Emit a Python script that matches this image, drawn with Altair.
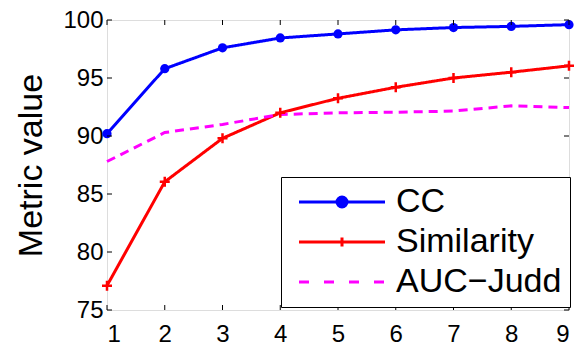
import altair as alt
import pandas as pd

# ---- data ----
x_vals = [1, 2, 3, 4, 5, 6, 7, 8, 9]
cc = [90.2, 95.8, 97.6, 98.45, 98.8, 99.15, 99.35, 99.45, 99.6]
similarity = [77.1, 86.05, 89.8, 92.0, 93.25, 94.2, 95.0, 95.5, 96.05]
auc_judd = [87.8, 90.3, 91.0, 91.85, 92.0, 92.05, 92.15, 92.6, 92.45]

series_names = ["CC", "Similarity", "AUC\u2212Judd"]
series_colors = ["#0000ff", "#ff0000", "#ff00ff"]

x_ticks = [1, 2, 3, 4, 5, 6, 7, 8, 9]
y_ticks = [75, 80, 85, 90, 95, 100]

rows = []
for name, vals in zip(series_names, [cc, similarity, auc_judd]):
    for xv, yv in zip(x_vals, vals):
        rows.append({"x": xv, "value": yv, "series": name})
df = pd.DataFrame(rows)
xt = pd.DataFrame({"x": x_ticks})
yt = pd.DataFrame({"value": y_ticks})

W, H = 462, 290
FONT = "Liberation Sans"

xscale = alt.Scale(domain=[1, 9], nice=False, zero=False)
yscale = alt.Scale(domain=[75, 100], nice=False, zero=False)
cscale = alt.Scale(domain=series_names, range=series_colors)

# legend glyphs (line + marker), drawn as custom symbol paths
legend_shapes = [
    "M-0.7,0H7.9M3.1,0A0.5,0.5,0,1,1,4.1,0A0.5,0.5,0,1,1,3.1,0Z",
    "M-0.7,0H7.9M3.6,-0.45V0.45M3.15,0H4.05",
    "M-0.7,0H0.3M1.8,0H2.8M4.3,0H5.3M6.8,0H7.8",
]
shape_scale = alt.Scale(domain=series_names, range=legend_shapes)

x_axis = alt.Axis(values=x_ticks, title=None, grid=False, domain=False, ticks=False,
                  labelFontSize=24, labelBaseline="alphabetic", labelPadding=31,
                  labelColor="black", labelFont=FONT)
y_axis = alt.Axis(values=y_ticks, title="Metric value", grid=False, domain=False, ticks=False,
                  labelFontSize=24, labelPadding=4, labelColor="black", labelFont=FONT,
                  titleFontSize=34, titleFontWeight="normal", titleColor="black", titleFont=FONT,
                  titleX=-66, titleY=H / 2, titleBaseline="alphabetic", titleAngle=270,
                  titleAlign="center")

X = alt.X("x:Q", scale=xscale, axis=x_axis)
Y = alt.Y("value:Q", scale=yscale, axis=y_axis)

leg = alt.Legend(orient="none", legendX=174, legendY=157, title=None,
                 labelFontSize=34, labelFont=FONT, labelColor="black", labelLimit=400,
                 symbolSize=400, symbolStrokeWidth=3, symbolOpacity=1,
                 labelOffset=73, rowPadding=6,
                 padding=8, strokeColor="black", fillColor="white")

layers = []
dashes = [[1, 0], [1, 0], [9, 6]]
for name, col, dash in zip(series_names, series_colors, dashes):
    layers.append(
        alt.Chart(df).transform_filter(alt.datum.series == name)
        .mark_line(strokeWidth=3, color=col, strokeDash=dash)
        .encode(x=X, y=Y)
    )

layers.append(
    alt.Chart(df).transform_filter(alt.datum.series == series_names[0])
    .mark_point(shape="circle", filled=True, size=85, opacity=1, color=series_colors[0])
    .encode(x=X, y=Y)
)
layers.append(
    alt.Chart(df).transform_filter(alt.datum.series == series_names[1])
    .mark_point(shape="M-1,0H1M0,-1V1", filled=False, size=100, strokeWidth=2.5,
                opacity=1, color=series_colors[1])
    .encode(x=X, y=Y)
)

# legend-only layer (no visible marks, legend entries come from the scale domain)
layers.append(
    alt.Chart(df).transform_filter("false").mark_point(filled=True, strokeWidth=3, opacity=1)
    .encode(
        x=X, y=Y,
        color=alt.Color("series:N", scale=cscale, legend=leg),
        stroke=alt.Stroke("series:N", scale=cscale, legend=leg),
        shape=alt.Shape("series:N", scale=shape_scale, legend=leg),
    )
)

tick_len = 5
layers += [
    alt.Chart(xt).mark_rule(color="black", strokeWidth=1).encode(
        x=X, y=alt.value(H), y2=alt.value(H - tick_len)),
    alt.Chart(xt).mark_rule(color="black", strokeWidth=1).encode(
        x=X, y=alt.value(0), y2=alt.value(tick_len)),
    alt.Chart(yt).mark_rule(color="black", strokeWidth=1).encode(
        y=Y, x=alt.value(0), x2=alt.value(tick_len)),
    alt.Chart(yt).mark_rule(color="black", strokeWidth=1).encode(
        y=Y, x=alt.value(W), x2=alt.value(W - tick_len)),
]

chart = alt.layer(*layers).properties(
    width=W, height=H,
    autosize=alt.AutoSizeParams(type="none"),
    padding={"left": 99, "top": 12, "right": 5, "bottom": 35},
).configure_view(
    stroke="black", strokeWidth=1
).configure(
    font=FONT, background="white"
)

chart.save("out.html", embed_options={"renderer": "svg", "actions": False})
